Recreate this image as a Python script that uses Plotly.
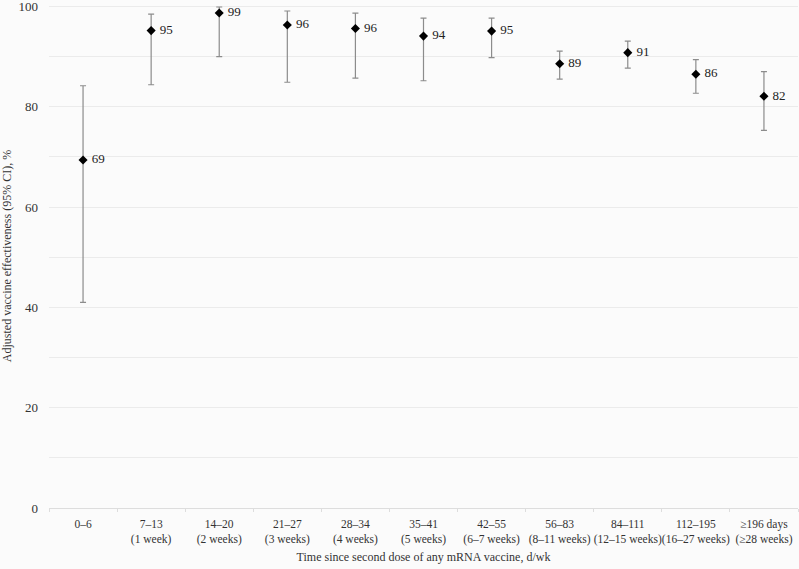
import plotly.graph_objects as go

categories = ["0–6", "7–13<br>(1 week)", "14–20<br>(2 weeks)", "21–27<br>(3 weeks)",
              "28–34<br>(4 weeks)", "35–41<br>(5 weeks)", "42–55<br>(6–7 weeks)",
              "56–83<br>(8–11 weeks)", "84–111<br>(12–15 weeks)", "112–195<br>(16–27 weeks)",
              "≥196 days<br>(≥28 weeks)"]
ve = [69.4, 95.2, 98.7, 96.3, 95.6, 94.1, 95.1, 88.6, 90.8, 86.5, 82.1]
ci_low = [41.0, 84.4, 90.0, 84.9, 85.7, 85.2, 89.8, 85.5, 87.7, 82.7, 75.3]
ci_high = [84.2, 98.5, 99.9, 99.1, 98.7, 97.7, 97.7, 91.1, 93.1, 89.4, 87.0]
labels = ["69", "95", "99", "96", "96", "94", "95", "89", "91", "86", "82"]

FONT = "Liberation Serif"
TXT = "#333333"

fig = go.Figure()
fig.add_trace(go.Scatter(
    x=categories, y=ve,
    mode="markers+text",
    text=labels,
    texttemplate=" %{text}",
    textposition="middle right",
    textfont=dict(family=FONT, size=13, color="#222222"),
    marker=dict(symbol="diamond", size=7, color="black"),
    error_y=dict(type="data", symmetric=False,
                 array=[h - v for h, v in zip(ci_high, ve)],
                 arrayminus=[v - l for v, l in zip(ve, ci_low)],
                 color="#8c8c8c", thickness=1.2, width=3),
    cliponaxis=False,
    showlegend=False,
))

fig.update_layout(
    width=799, height=569,
    margin=dict(l=49, r=1, t=4, b=61, autoexpand=False),
    paper_bgcolor="#fbfbfb", plot_bgcolor="#fbfbfb",
    font=dict(family=FONT, size=12, color=TXT),
    xaxis=dict(
        type="category", tickangle=0, automargin=False,
        tickson="boundaries", ticks="outside", ticklen=3, tickcolor="#dddddd",
        ticklabelstandoff=5,
        showgrid=False, showline=True, linecolor="#dddddd", linewidth=1,
        tickfont=dict(family=FONT, size=11.5, color=TXT),
        title=dict(text="Time since second dose of any mRNA vaccine, d/wk",
                   font=dict(family=FONT, size=12, color=TXT), standoff=7),
        range=[-0.5, 10.5],
    ),
    yaxis=dict(
        range=[0, 100.5], tickvals=[0, 20, 40, 60, 80, 100], automargin=False,
        ticklabeloverflow="allow",
        showgrid=True, gridcolor="#ebebeb", gridwidth=1,
        minor=dict(tickvals=[10, 30, 50, 70, 90], showgrid=True, gridcolor="#ebebeb", gridwidth=1),
        zeroline=False, showline=False, ticks="",
        ticklabelstandoff=10,
        tickfont=dict(family=FONT, size=13, color=TXT),
        title=dict(text="Adjusted vaccine effectiveness (95% CI), %",
                   font=dict(family=FONT, size=12, color=TXT), standoff=8),
    ),
)

fig.write_html("out.html", config={"displayModeBar": False},
               post_script="document.body.style.margin='0px';document.body.style.padding='0px';")
